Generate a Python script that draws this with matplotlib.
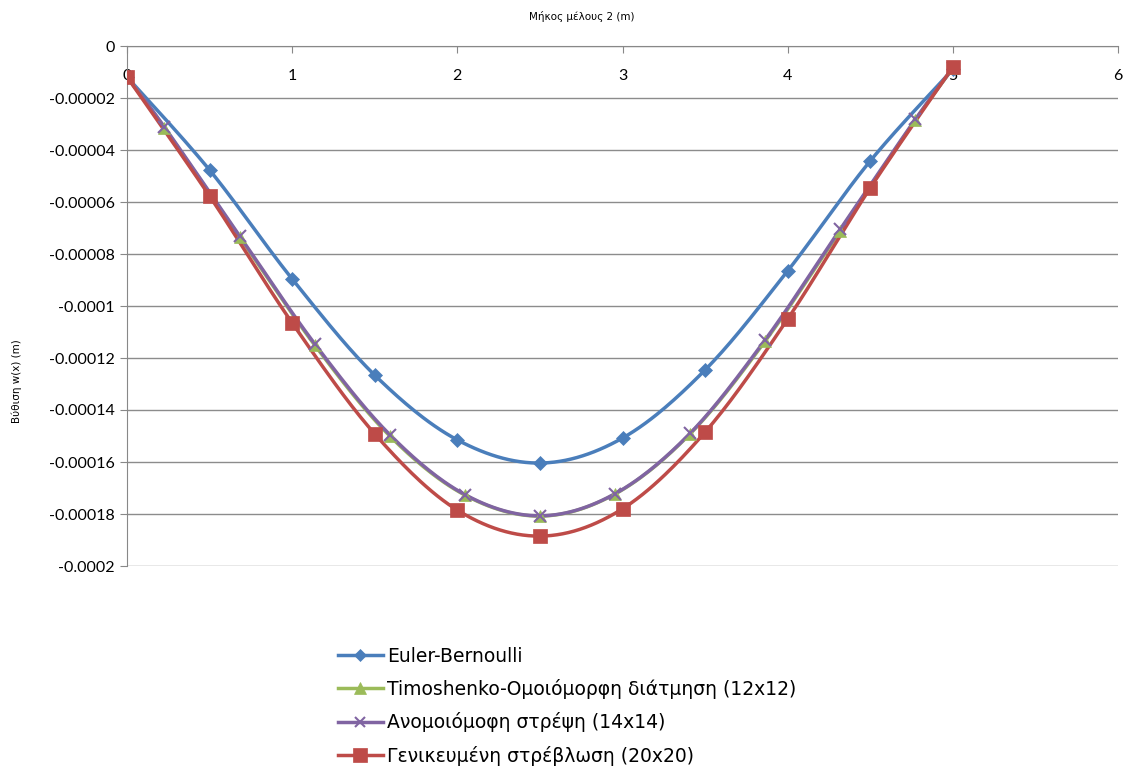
import numpy as np
import matplotlib
matplotlib.use("Agg")
import matplotlib.pyplot as plt
from matplotlib.lines import Line2D
from matplotlib.ticker import FuncFormatter

# Beam deflection along member 2 (m) for four models
x_eb = [0, 0.5, 1.0, 1.5, 2.0, 2.5, 3.0, 3.5, 4.0, 4.5, 5.0]
w_eb = [-1.19e-5, -4.77e-5, -8.96e-5, -12.66e-5, -15.15e-5, -16.04e-5,
        -15.08e-5, -12.46e-5, -8.65e-5, -4.42e-5, -0.90e-5]

x_ts = [0, 0.227, 0.682, 1.136, 1.591, 2.045, 2.5, 2.955, 3.409, 3.864,
        4.318, 4.773, 5.0]
w_ts = [-1.19e-5, -3.15e-5, -7.35e-5, -11.5e-5, -15.0e-5, -17.27e-5,
        -18.08e-5, -17.23e-5, -14.92e-5, -11.35e-5, -7.1e-5, -2.85e-5, -0.85e-5]

x_nu = [0, 0.227, 0.682, 1.136, 1.591, 2.045, 2.5, 2.955, 3.409, 3.864,
        4.318, 4.773, 5.0]
w_nu = [-1.19e-5, -3.12e-5, -7.3e-5, -11.45e-5, -14.95e-5, -17.25e-5,
        -18.07e-5, -17.22e-5, -14.9e-5, -11.3e-5, -7.05e-5, -2.82e-5, -0.85e-5]

x_gw = [0, 0.5, 1.0, 1.5, 2.0, 2.5, 3.0, 3.5, 4.0, 4.5, 5.0]
w_gw = [-1.19e-5, -5.77e-5, -10.65e-5, -14.92e-5, -17.85e-5, -18.85e-5,
        -17.8e-5, -14.85e-5, -10.5e-5, -5.46e-5, -0.81e-5]

labels = ["Euler-Bernoulli",
          "Timoshenko-Ομοιόμορφη διάτμηση (12x12)",
          "Ανομοιόμοφη στρέψη (14x14)",
          "Γενικευμένη στρέβλωση (20x20)"]
colors = ["#4A7EBB", "#9BBB59", "#8064A2", "#BE4B48"]
markers = ["D", "^", "x", "s"]
msizes = [7, 9, 8, 10.5]

x_ticks = [0, 1, 2, 3, 4, 5, 6]
y_ticks = [0, -0.00002, -0.00004, -0.00006, -0.00008, -0.0001,
           -0.00012, -0.00014, -0.00016, -0.00018, -0.0002]


def smooth(xs, ys, n=30):
    """Bezier smoothing through the points (tension 1/6)."""
    xs = np.asarray(xs, float)
    ys = np.asarray(ys, float)
    P = np.column_stack([xs, ys])
    out = [P[0]]
    t = np.linspace(0, 1, n)[1:, None]
    for i in range(len(P) - 1):
        p0 = P[i - 1] if i > 0 else P[i]
        p1, p2 = P[i], P[i + 1]
        p3 = P[i + 2] if i + 2 < len(P) else P[i + 1]
        c1 = p1 + (p2 - p0) / 6.0
        c2 = p2 - (p3 - p1) / 6.0
        seg = ((1 - t) ** 3) * p1 + 3 * ((1 - t) ** 2) * t * c1 \
            + 3 * (1 - t) * t ** 2 * c2 + t ** 3 * p2
        out.extend(seg)
    out = np.array(out)
    return out[:, 0], out[:, 1]


W, H = 1128, 767
fig = plt.figure(figsize=(W / 100, H / 100), dpi=100)
ax = fig.add_axes([127 / W, 1 - 566 / H, (1118 - 127) / W, (566 - 46) / H])

series = [(x_eb, w_eb), (x_ts, w_ts), (x_nu, w_nu), (x_gw, w_gw)]
for (xs, ys), c, m, ms in zip(series, colors, markers, msizes):
    sx, sy = smooth(xs, ys)
    ax.plot(sx, sy, color=c, lw=2.5, solid_capstyle="round", zorder=3)
    ax.plot(xs, ys, ls="none", marker=m, ms=ms, color=c,
            mec=c, mew=1.5 if m == "x" else 0.5, zorder=4)

ax.set_xlim(0, 6)
ax.set_ylim(-0.0002, 0)
ax.set_xticks(x_ticks)
ax.set_yticks(y_ticks)
ax.yaxis.set_major_formatter(FuncFormatter(
    lambda v, p: "0" if abs(v) < 1e-12 else ("%.5f" % v).rstrip("0")))

for sp in ["right", "bottom"]:
    ax.spines[sp].set_visible(False)
ax.spines["left"].set_color("#888888")
ax.spines["top"].set_color("#888888")
ax.grid(axis="y", color="#8c8c8c", lw=1)
ax.set_axisbelow(True)

ax.tick_params(axis="x", top=True, bottom=False, labeltop=True,
               labelbottom=False, direction="in", length=5,
               color="#888888", pad=-27, labelsize=11.5)
ax.tick_params(axis="y", direction="out", length=5, color="#888888",
               labelsize=11.5, pad=4)
for lab in ax.get_xticklabels() + ax.get_yticklabels():
    lab.set_fontfamily("Lato")

fig.text(582 / W, 1 - 16 / H, "Μήκος μέλους 2 (m)", ha="center",
         va="center", fontsize=7.5, family="DejaVu Sans")
fig.text(17 / W, 1 - 381 / H, "Βύθιση w(x) (m)", ha="center",
         va="center", rotation=90, fontsize=7.5, family="DejaVu Sans")

handles = [Line2D([], [], color=c, lw=2.5, marker=m, ms=ms * 0.9,
                  mec=c, mew=1.5 if m == "x" else 0.5)
           for c, m, ms in zip(colors, markers, msizes)]
fig.legend(handles, labels, loc="upper left",
           bbox_to_anchor=(330 / W, 1 - 639 / H), frameon=False,
           fontsize=13.5, handlelength=2.4, handletextpad=0.25,
           labelspacing=0.72, borderaxespad=0)

fig.savefig("out.png", dpi=100)
